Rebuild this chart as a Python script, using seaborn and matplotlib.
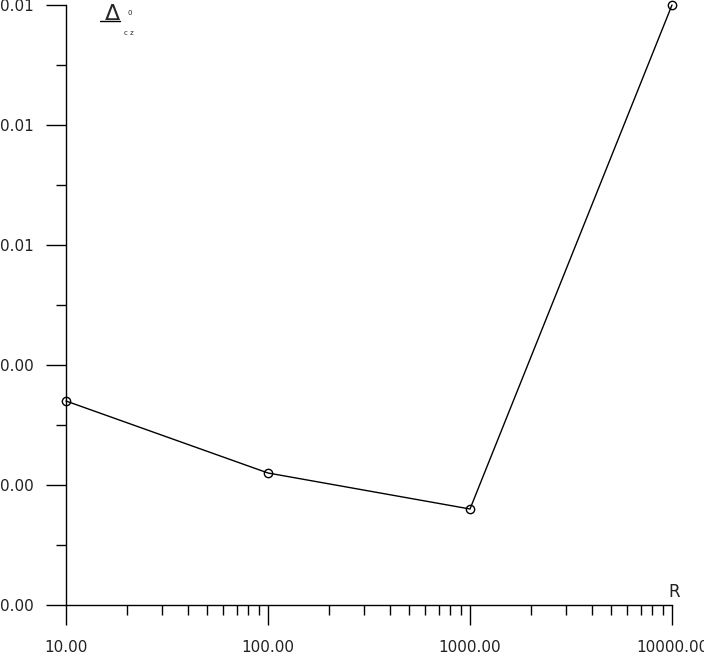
import numpy as np
import pandas as pd
import seaborn as sns
import matplotlib.pyplot as plt
from matplotlib.ticker import FixedLocator, FuncFormatter, LogLocator

sns.set_style("ticks")
plt.rcParams['font.family'] = ['DejaVu Sans']

# data
r_values = [10, 100, 1000, 10000]
dcz_values = [0.0034, 0.0022, 0.0016, 0.0100]
y_major = [0.000, 0.002, 0.004, 0.006, 0.008, 0.010]
y_minor = [0.001, 0.003, 0.005, 0.007, 0.009]
x_major = [10, 100, 1000, 10000]

df = pd.DataFrame({'R': r_values, 'dcz': dcz_values})

fig = plt.figure(figsize=(7.04, 6.61), dpi=100)
ax = fig.add_axes([66 / 704, 56 / 661, 606 / 704, 600 / 661])

sns.lineplot(data=df, x='R', y='dcz', ax=ax, color='black', linewidth=1,
             marker='o', markersize=6, markerfacecolor='none',
             markeredgecolor='black', markeredgewidth=1, clip_on=False)

ax.set_xscale('log')
ax.set_xlim(10, 10000)
ax.set_ylim(0, 0.010)

ax.xaxis.set_major_locator(FixedLocator(x_major))
ax.xaxis.set_minor_locator(LogLocator(base=10, subs=np.arange(2, 10)))
ax.xaxis.set_minor_formatter(FuncFormatter(lambda v, p: ''))
ax.xaxis.set_major_formatter(FuncFormatter(lambda v, p: f'{v:.2f}'))
ax.yaxis.set_major_locator(FixedLocator(y_major))
ax.yaxis.set_minor_locator(FixedLocator(y_minor))
ax.yaxis.set_major_formatter(FuncFormatter(lambda v, p: f'{v:.2f}'))

ax.tick_params(axis='both', which='major', length=14.4, width=1, color='black',
               labelsize=11, labelcolor='#222222', direction='out')
ax.tick_params(axis='both', which='minor', length=7.2, width=1, color='black',
               direction='out')
ax.tick_params(axis='y', which='major', pad=9)
ax.tick_params(axis='x', which='major', pad=11)

for s in ['top', 'right']:
    ax.spines[s].set_visible(False)
for s in ['left', 'bottom']:
    ax.spines[s].set_color('black')
    ax.spines[s].set_linewidth(1)

ax.set_xlabel('')
ax.set_ylabel('')
fig.text(674 / 704, 1 - 592 / 661, 'R', ha='center', va='center', fontsize=12, color='#222222')

# legend-like symbol at top left
fig.text(113 / 704, 1 - 14 / 661, r'$\Delta$', ha='center', va='center', fontsize=16)
fig.lines.append(plt.Line2D([100 / 704, 120 / 704], [1 - 21 / 661, 1 - 21 / 661],
                            transform=fig.transFigure, color='black', linewidth=1))
fig.text(127 / 704, 1 - 13 / 661, '0', fontsize=5, va='center')
fig.text(124 / 704, 1 - 33 / 661, 'c z', fontsize=5, va='center')

fig.savefig('out.png', dpi=100)
